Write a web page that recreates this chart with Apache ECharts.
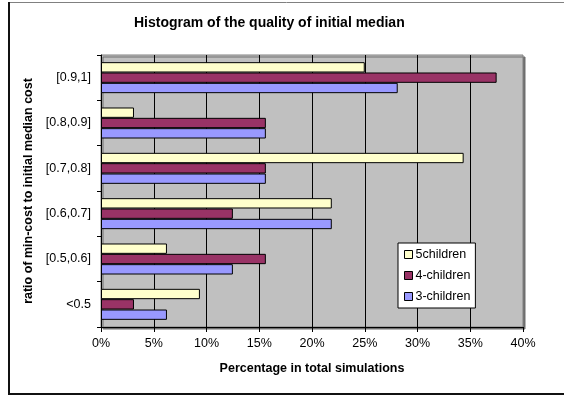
<!DOCTYPE html>
<html>
<head>
<meta charset="utf-8">
<script src="https://cdn.jsdelivr.net/npm/echarts@6/dist/echarts.min.js"></script>
<style>
  html, body { margin: 0; padding: 0; background: #fff; }
  #chart { width: 564px; height: 398px; }
</style>
</head>
<body>
<div id="chart"></div>
<script>
// Ratio classes (bottom to top on the category axis)
const categories = ['<0.5', '[0.5,0.6]', '[0.6,0.7]', '[0.7,0.8]', '[0.8,0.9]', '[0.9,1]'];

// Percentage of simulations falling in each class
const children3 = [6.25, 12.5, 21.875, 15.625, 15.625, 28.125];
const children4 = [3.125, 15.625, 12.5, 15.625, 15.625, 37.5];
const children5 = [9.375, 6.25, 21.875, 34.375, 3.125, 25];

const xTicks = [0, 5, 10, 15, 20, 25, 30, 35, 40];

const FONT = "'Liberation Sans', Arial, sans-serif";

const barStyle = (color) => ({
  color: color,
  borderColor: '#000',
  borderWidth: 1
});

const chart = echarts.init(document.getElementById('chart'), null, { renderer: 'canvas' });

chart.setOption({
  animation: false,
  backgroundColor: '#fff',
  textStyle: { fontFamily: FONT },
  title: {
    text: 'Histogram of the quality of initial median',
    left: 134,
    top: 16,
    padding: 0,
    textStyle: { fontFamily: FONT, fontSize: 14, fontWeight: 'bold', color: '#000' }
  },
  legend: {
    data: ['5children', '4-children', '3-children'],
    orient: 'vertical',
    left: 398,
    top: 243,
    padding: [1, 5, 1, 6],
    itemGap: 0,
    itemWidth: 8,
    itemHeight: 8,
    icon: 'rect',
    backgroundColor: '#fff',
    borderColor: '#000',
    borderWidth: 1,
    textStyle: { fontFamily: FONT, fontSize: 12.5, color: '#000', lineHeight: 21, padding: [0, 0, 0, -2] },
    itemStyle: { borderColor: '#000', borderWidth: 1 }
  },
  grid: {
    left: 101,
    top: 55,
    right: 41,
    bottom: 71,
    show: true,
    backgroundColor: '#C0C0C0',
    borderColor: '#808080',
    borderWidth: 1,
    shadowColor: '#6e6e6e',
    shadowOffsetX: 2,
    shadowOffsetY: 2,
    shadowBlur: 0
  },
  xAxis: {
    type: 'value',
    min: xTicks[0],
    max: xTicks[xTicks.length - 1],
    interval: 5,
    name: 'Percentage in total simulations',
    nameLocation: 'middle',
    nameGap: 35,
    nameTextStyle: { fontFamily: FONT, fontSize: 12.5, fontWeight: 'bold', color: '#000' },
    axisLine: { show: true, lineStyle: { color: '#000', width: 1 } },
    axisTick: { show: true, length: 5, lineStyle: { color: '#000' } },
    axisLabel: { margin: 10, fontFamily: FONT, fontSize: 12.5, color: '#000', formatter: '{value}%' },
    splitLine: { show: true, showMinLine: false, showMaxLine: false, lineStyle: { color: '#000', width: 1 } }
  },
  yAxis: {
    type: 'category',
    data: categories,
    name: 'ratio of min-cost to initial median cost',
    nameLocation: 'middle',
    nameGap: 58,
    nameTextStyle: { fontFamily: FONT, fontSize: 12.5, fontWeight: 'bold', color: '#000' },
    axisLine: { show: true, lineStyle: { color: '#000', width: 1 } },
    axisTick: { show: true, length: 4, lineStyle: { color: '#000' } },
    axisLabel: { margin: 10, fontFamily: FONT, fontSize: 12.5, color: '#000' },
    splitLine: { show: false }
  },
  series: [
    { name: '5children', type: 'bar', data: children5, barGap: '0%', barCategoryGap: '31.6%', itemStyle: barStyle('#FFFFCC') },
    { name: '4-children', type: 'bar', data: children4, barGap: '0%', barCategoryGap: '31.6%', itemStyle: barStyle('#993366') },
    { name: '3-children', type: 'bar', data: children3, barGap: '0%', barCategoryGap: '31.6%', itemStyle: barStyle('#9999FF') }
  ],
  graphic: [
    { type: 'line', shape: { x1: 9, y1: 2.5, x2: 564, y2: 2.5 }, style: { stroke: '#808080', lineWidth: 1 } },
    { type: 'line', shape: { x1: 9, y1: 2, x2: 9, y2: 395 }, style: { stroke: '#111', lineWidth: 2 } },
    { type: 'line', shape: { x1: 8, y1: 394, x2: 564, y2: 394 }, style: { stroke: '#111', lineWidth: 2 } }
  ]
});
</script>
</body>
</html>
